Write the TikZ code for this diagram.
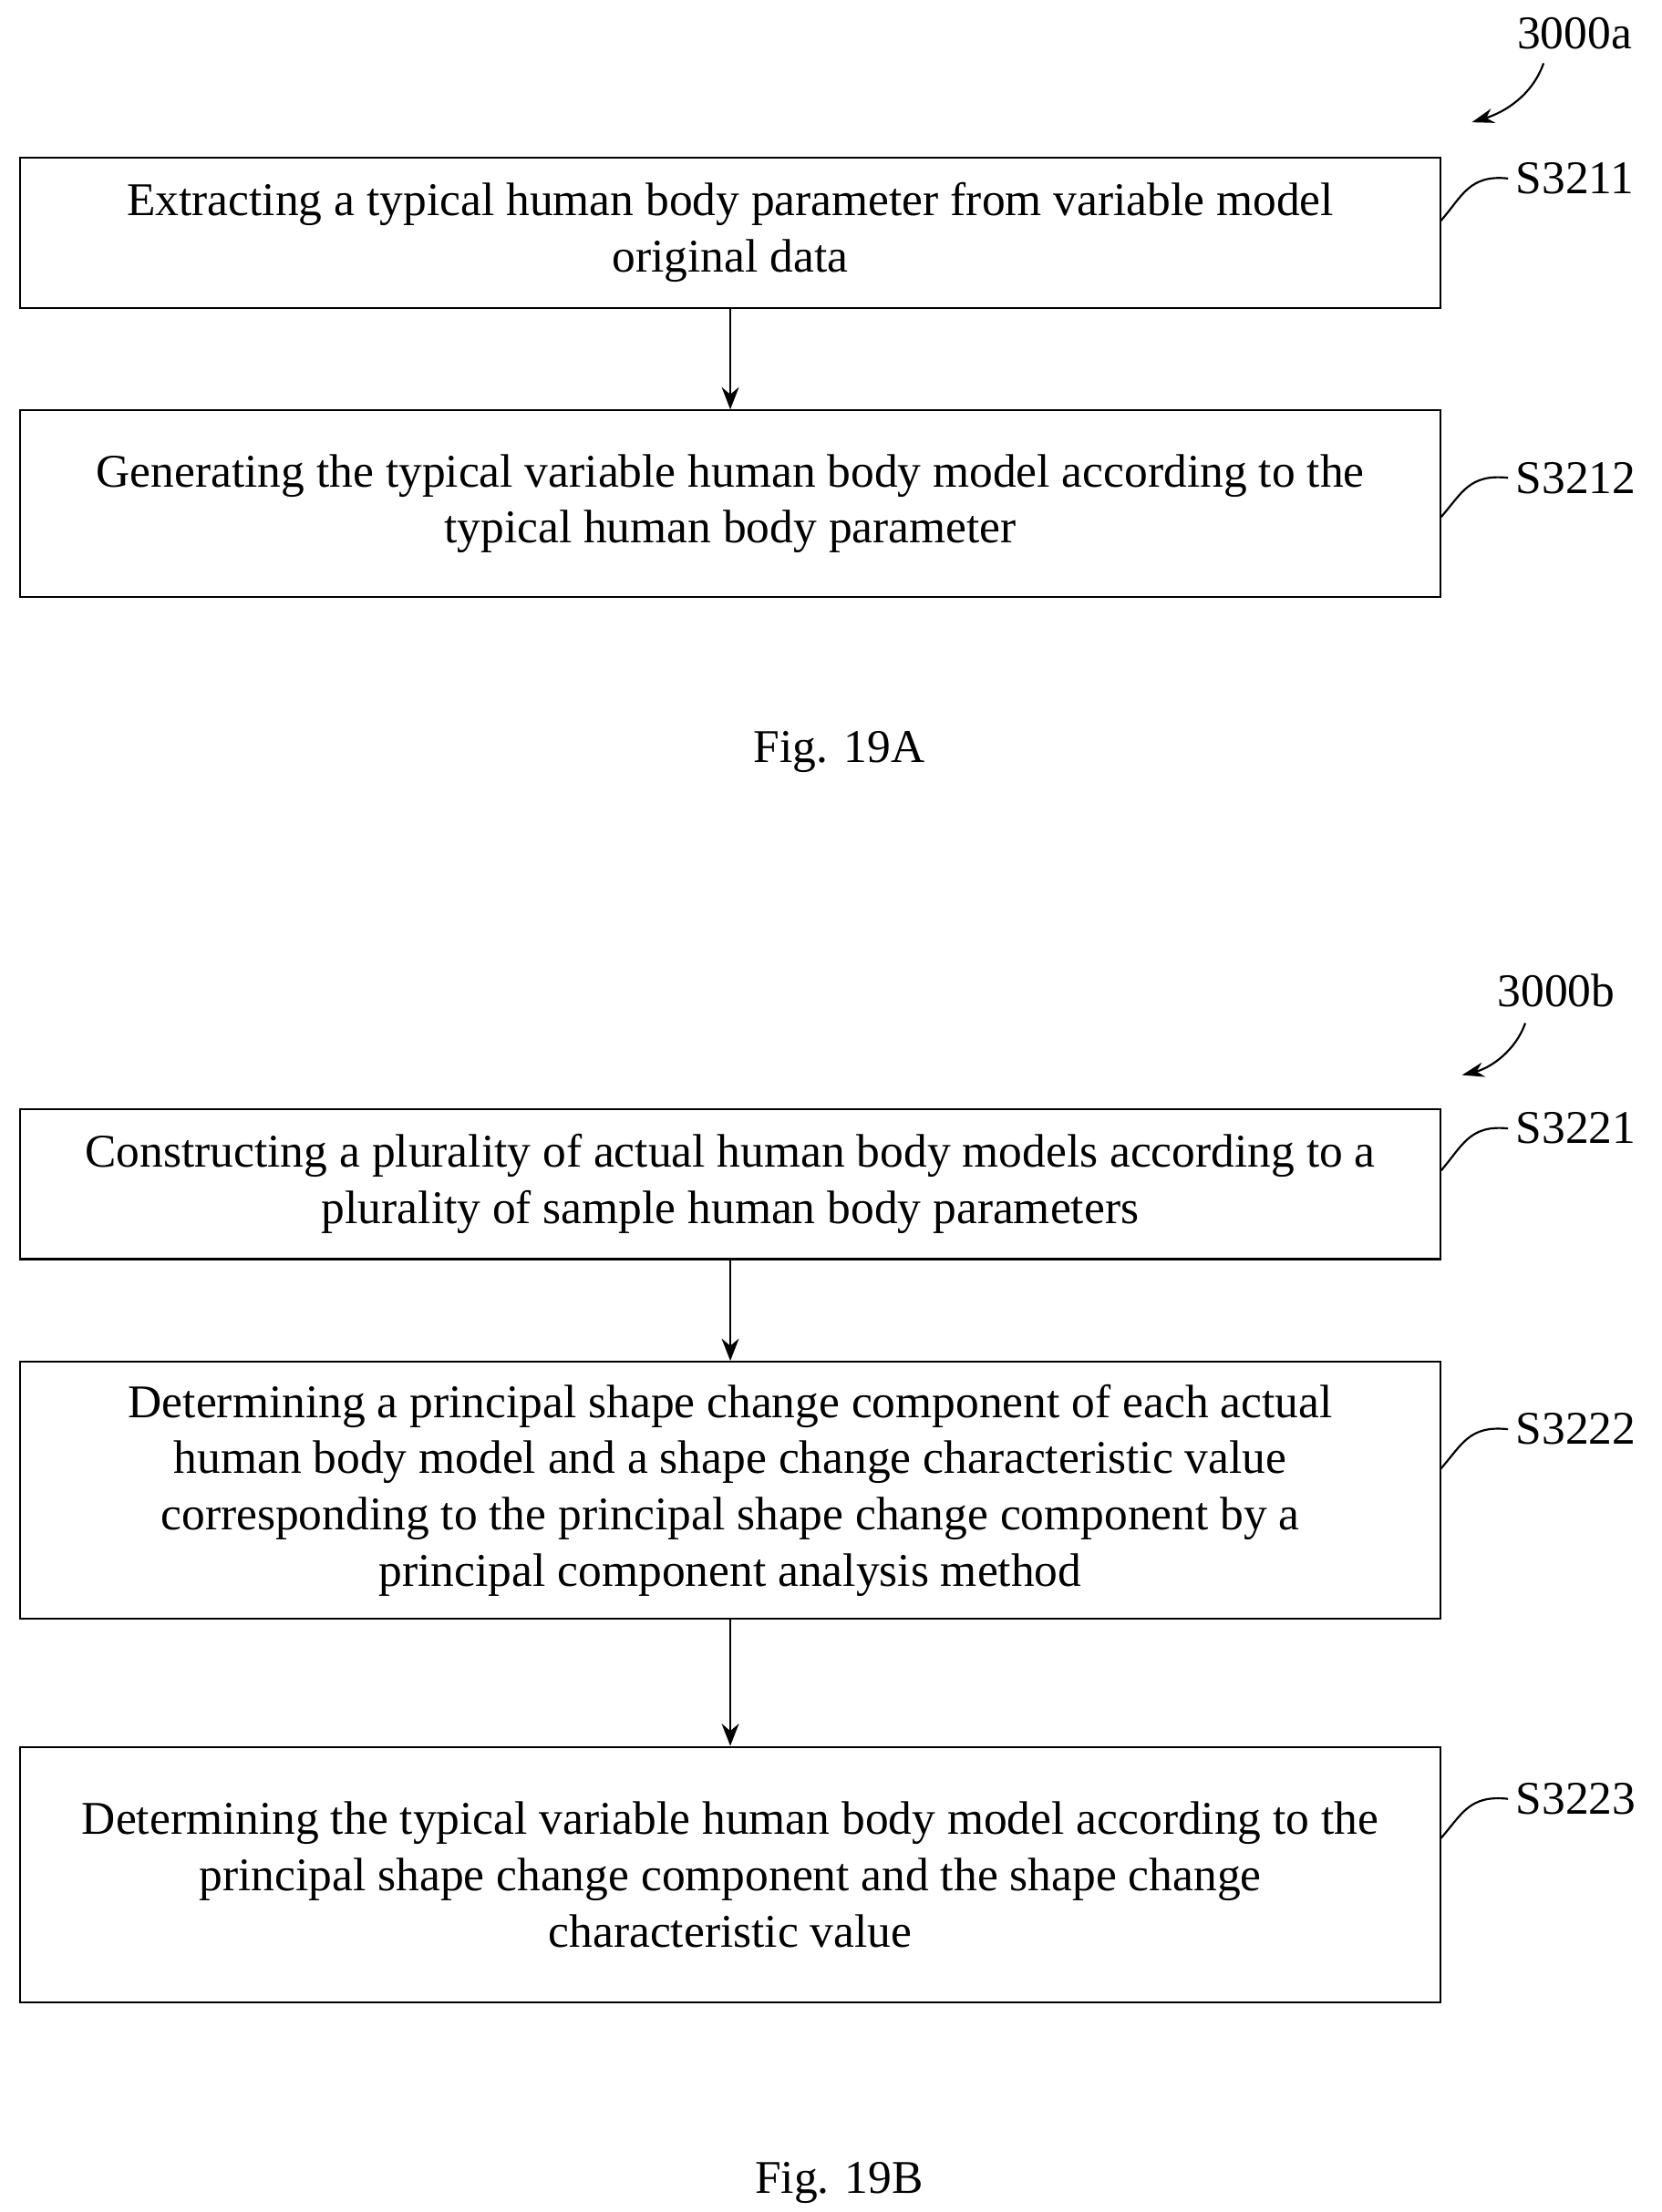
\documentclass[tikz,border=0pt]{standalone}
\usepackage{fontspec}
\setmainfont{Liberation Serif}
\usetikzlibrary{positioning,arrows.meta}
\begin{document}
\begin{tikzpicture}[x=0.02cm,y=-0.02cm,
  stepbox/.style={draw, thick, minimum width=20.22cm, align=center, inner sep=0pt, font=\fontsize{19}{22.8}\selectfont},
  lbl/.style={font=\fontsize{19}{22.8}\selectfont, anchor=west, inner sep=0pt},
  flow/.style={-{Stealth[length=9pt,width=7pt]}, thick}]
  \useasboundingbox (0,0) rectangle (1182,1574);
  % Fig. 19A
  \node[stepbox, minimum height=2.14cm] (extract) at (519.5,165.5) {Extracting a typical human body parameter from variable model\\original data};
  \node[stepbox, minimum height=2.66cm] (generate) at (519.5,358.5) {Generating the typical variable human body model according to the\\typical human body parameter};
  \draw[flow] (extract) -- (generate);
  \node[lbl] (s3211) at (1078,127) {S3211};
  \node[lbl] (s3212) at (1078,340) {S3212};
  \draw[thick] (1025,157) .. controls (1040,140) and (1045,124) .. ([xshift=-3pt]s3211.west);
  \draw[thick] (1025,368) .. controls (1040,351) and (1045,337) .. ([xshift=-3pt]s3212.west);
  \node[lbl, anchor=center] (idA) at (1120,24) {3000a};
  \draw[thick, -{Stealth[length=9pt,width=6pt]}] (1098,45) .. controls (1090,68) and (1070,80) .. (1047,87);
  \node[font=\fontsize{19}{22.8}\selectfont] (figA) at (597,535) {Fig. 19A};
  % Fig. 19B
  \node[stepbox, minimum height=2.14cm] (construct) at (519.5,842.5) {Constructing a plurality of actual human body models according to a\\plurality of sample human body parameters};
  \node[stepbox, minimum height=3.66cm] (determine) at (519.5,1060.5) {Determining a principal shape change component of each actual\\human body model and a shape change characteristic value\\corresponding to the principal shape change component by a\\principal component analysis method};
  \node[stepbox, minimum height=3.64cm] (typical) at (519.5,1334) {Determining the typical variable human body model according to the\\principal shape change component and the shape change\\characteristic value};
  \draw[flow] (construct) -- (determine);
  \draw[flow] (determine) -- (typical);
  \node[lbl] (s3221) at (1078,803) {S3221};
  \node[lbl] (s3222) at (1078,1017) {S3222};
  \node[lbl] (s3223) at (1078,1280) {S3223};
  \draw[thick] (1025,833) .. controls (1040,816) and (1045,800) .. ([xshift=-3pt]s3221.west);
  \draw[thick] (1025,1045) .. controls (1040,1028) and (1045,1014) .. ([xshift=-3pt]s3222.west);
  \draw[thick] (1025,1308) .. controls (1040,1291) and (1045,1277) .. ([xshift=-3pt]s3223.west);
  \node[lbl, anchor=center] (idB) at (1107,705) {3000b};
  \draw[thick, -{Stealth[length=9pt,width=6pt]}] (1085,728) .. controls (1078,748) and (1060,760) .. (1040,765);
  \node[font=\fontsize{19}{22.8}\selectfont] (figB) at (597,1553) {Fig. 19B};
\end{tikzpicture}
\end{document}
